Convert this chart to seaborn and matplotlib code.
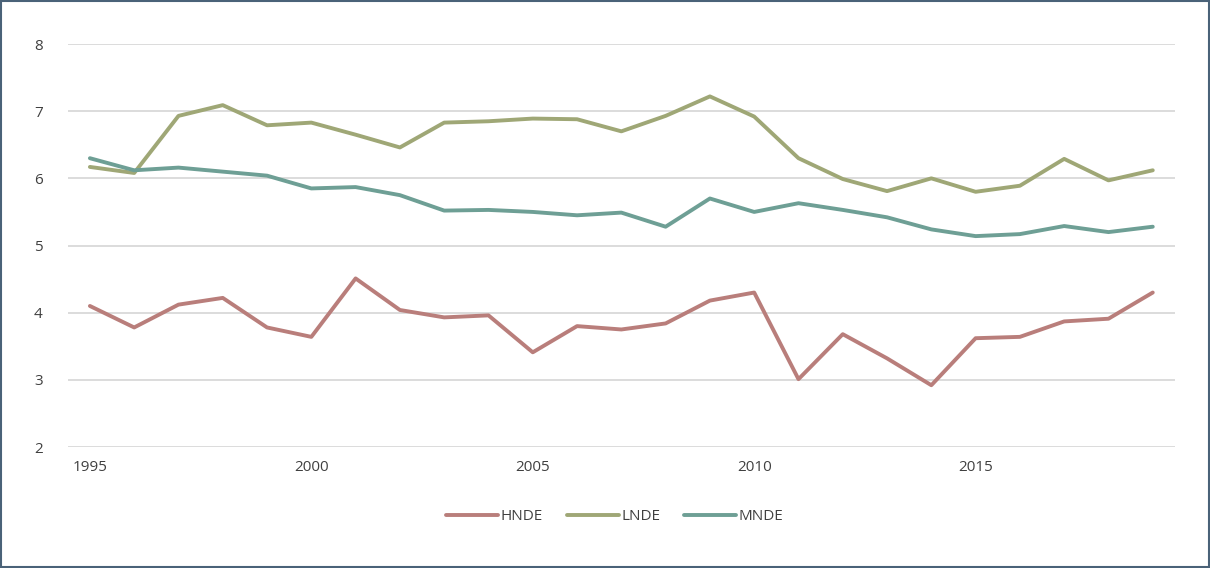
import pandas as pd
import seaborn as sns
import matplotlib.pyplot as plt

years = list(range(1995, 2020))
hnde = [4.10, 3.78, 4.12, 4.22, 3.78, 3.64, 4.51, 4.04, 3.93, 3.96, 3.41, 3.80, 3.75,
        3.84, 4.18, 4.30, 3.01, 3.68, 3.32, 2.92, 3.62, 3.64, 3.87, 3.91, 4.30]
lnde = [6.17, 6.08, 6.93, 7.09, 6.79, 6.83, 6.65, 6.46, 6.83, 6.85, 6.89, 6.88, 6.70,
        6.93, 7.22, 6.92, 6.30, 5.99, 5.81, 6.00, 5.80, 5.89, 6.29, 5.97, 6.12]
mnde = [6.30, 6.12, 6.16, 6.10, 6.04, 5.85, 5.87, 5.75, 5.52, 5.53, 5.50, 5.45, 5.49,
        5.28, 5.70, 5.50, 5.63, 5.53, 5.42, 5.24, 5.14, 5.17, 5.29, 5.20, 5.28]
y_ticks = [2, 3, 4, 5, 6, 7, 8]
x_ticks = [1995, 2000, 2005, 2010, 2015]

df = pd.DataFrame({'Year': years * 3,
                   'Value': hnde + lnde + mnde,
                   'Group': ['HNDE'] * 25 + ['LNDE'] * 25 + ['MNDE'] * 25})
colors = {'HNDE': '#b97e7b', 'LNDE': '#9fa776', 'MNDE': '#6e9f95'}

sns.set_style('white')
plt.rcParams['font.family'] = ['Open Sans', 'DejaVu Sans']

fig = plt.figure(figsize=(12.1, 5.68), dpi=100)
ax = fig.add_axes([0.056, 0.213, 0.915, 0.7095])
sns.lineplot(data=df, x='Year', y='Value', hue='Group', palette=colors,
             linewidth=2.8, ax=ax, legend=False, zorder=3)

ax.set_xlim(1994.5, 2019.5)
ax.set_ylim(2, 8)
ax.set_yticks(y_ticks)
ax.set_xticks(x_ticks)
ax.grid(axis='y', color='#d9d9d9', linewidth=1.3, zorder=0)
for s in ax.spines.values():
    s.set_visible(False)
ax.tick_params(axis='both', length=0, labelsize=11, colors='#404040')
ax.tick_params(axis='y', pad=18)
ax.tick_params(axis='x', pad=9)
ax.set_xlabel('')
ax.set_ylabel('')

handles = [plt.Line2D([], [], color=colors[g], linewidth=2.8) for g in colors]
fig.legend(handles, list(colors), loc='center', bbox_to_anchor=(0.508, 0.09),
           ncol=3, frameon=False, fontsize=11, handlelength=3.4,
           handletextpad=0.15, columnspacing=1.6, labelcolor='#404040')

fig.patches.append(plt.Rectangle((0.001, 0.001), 0.998, 0.998, transform=fig.transFigure,
                                 fill=False, edgecolor='#4a6278', linewidth=1.5))

fig.savefig('out.png', dpi=100)
